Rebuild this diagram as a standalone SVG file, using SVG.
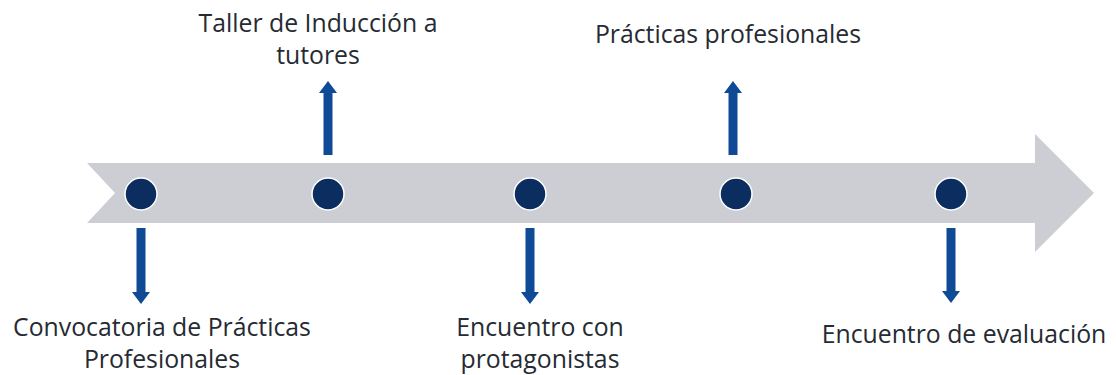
<svg xmlns="http://www.w3.org/2000/svg" width="1116" height="375" viewBox="0 0 1116 375">
<style>
.lbl{font-family:"Open Sans","Noto Sans","Liberation Sans",sans-serif;font-size:24.8px;fill:#262b33;text-anchor:middle}
.dot{fill:#0b2d5f;stroke:#ffffff;stroke-width:1.5}
.arr{fill:#0f4a96}
</style>
<rect width="1116" height="375" fill="#ffffff"/>
<g id="timeline">
<polygon points="87,163 1035,163 1035,134 1094,193 1035,252 1035,223 87,223 115,193" fill="#cdced3"/>
</g>
<g id="connectors">
<polygon class="arr" points="136.5,228 145.5,228 145.5,292 150,292 141,304 132,292 136.5,292"/>
<polygon class="arr" points="323.5,155 332.5,155 332.5,93 337,93 328,81 319,93 323.5,93"/>
<polygon class="arr" points="525.5,228 534.5,228 534.5,292 539,292 530,304 521,292 525.5,292"/>
<polygon class="arr" points="728.5,155 737.5,155 737.5,93 742,93 733,81 724,93 728.5,93"/>
<polygon class="arr" points="946.5,228 955.5,228 955.5,291 960,291 951,303 942,291 946.5,291"/>
</g>
<g id="n1"><circle class="dot" cx="141" cy="194" r="16"/><text class="lbl" x="162" y="336">Convocatoria de Prácticas</text><text class="lbl" x="162" y="368">Profesionales</text></g>
<g id="n2"><circle class="dot" cx="328" cy="194" r="16"/><text class="lbl" x="318" y="32">Taller de Inducción a</text><text class="lbl" x="318" y="64">tutores</text></g>
<g id="n3"><circle class="dot" cx="530" cy="194" r="16"/><text class="lbl" x="540" y="336">Encuentro con</text><text class="lbl" x="540" y="368">protagonistas</text></g>
<g id="n4"><circle class="dot" cx="736" cy="194" r="16"/><text class="lbl" x="728" y="43">Prácticas profesionales</text></g>
<g id="n5"><circle class="dot" cx="951" cy="194" r="16"/><text class="lbl" x="964" y="343">Encuentro de evaluación</text></g>
</svg>
